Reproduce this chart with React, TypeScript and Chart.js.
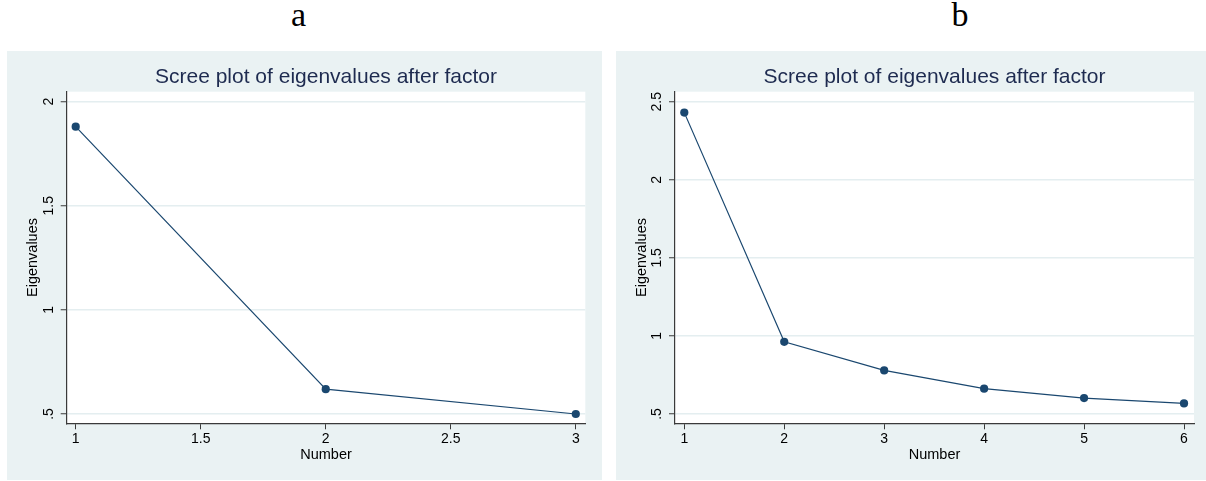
import React, { useEffect, useRef } from 'react';
import { Chart, registerables } from 'chart.js';

Chart.register(...registerables);

// ---- data ----
const chartTitle = 'Scree plot of eigenvalues after factor';
const yAxisTitle = 'Eigenvalues';
const xAxisTitle = 'Number';
const panelLabels = ['a', 'b'];

const numbersA = [1, 2, 3];
const eigenA = [1.88, 0.619, 0.5];
const xTicksA = [1, 1.5, 2, 2.5, 3];
const xTickLabelsA = ['1', '1.5', '2', '2.5', '3'];
const yTicksA = [0.5, 1, 1.5, 2];
const yTickLabelsA = ['.5', '1', '1.5', '2'];

const numbersB = [1, 2, 3, 4, 5, 6];
const eigenB = [2.43, 0.962, 0.779, 0.662, 0.602, 0.568];
const xTicksB = [1, 2, 3, 4, 5, 6];
const xTickLabelsB = ['1', '2', '3', '4', '5', '6'];
const yTicksB = [0.5, 1, 1.5, 2, 2.5];
const yTickLabelsB = ['.5', '1', '1.5', '2', '2.5'];

// ---- style ----
const PANEL_BG = '#eaf2f3';
const GRID = '#e4eef0';
const NAVY = '#1a476f';
const AXIS = '#3a3a3a';
const FONT = "'Liberation Sans', Arial, Helvetica, sans-serif";

type PanelProps = {
  left: number;
  width: number;
  xs: number[];
  ys: number[];
  xTicks: number[];
  xLabels: string[];
  yTicks: number[];
  yLabels: string[];
  xMin: number;
  xMax: number;
  yMin: number;
  yMax: number;
  plotLeft: number;
  plotRight: number;
};

const PANEL_TOP = 51;
const PANEL_H = 429;
const PLOT_TOP = 40.7;
const PLOT_BOTTOM = 372.3;

const plotBg = {
  id: 'plotBg',
  beforeDraw(chart: any) {
    const { ctx, chartArea } = chart;
    ctx.save();
    ctx.fillStyle = '#ffffff';
    ctx.fillRect(chartArea.left, chartArea.top, chartArea.right - chartArea.left, chartArea.bottom - chartArea.top);
    ctx.restore();
  },
};

function Panel(p: PanelProps) {
  const ref = useRef<HTMLCanvasElement | null>(null);
  useEffect(() => {
    if (!ref.current) return;
    const points = p.xs.map((x, i) => ({ x, y: p.ys[i] }));
    const chart = new Chart(ref.current, {
      type: 'line',
      data: {
        datasets: [
          {
            data: points,
            borderColor: NAVY,
            borderWidth: 1.2,
            pointRadius: 4.1,
            pointBackgroundColor: NAVY,
            pointBorderWidth: 0,
            fill: false,
            tension: 0,
            clip: false as any,
          },
        ],
      },
      options: {
        animation: false,
        responsive: false,
        devicePixelRatio: 1,
        events: [],
        layout: {
          autoPadding: false,
          padding: { left: 0, right: p.width - p.plotRight, top: 0, bottom: 0 },
        } as any,
        plugins: {
          legend: { display: false },
          tooltip: { enabled: false },
          title: {
            display: true,
            text: chartTitle,
            fullSize: false,
            color: '#1e2b50',
            font: { family: FONT, size: 21, weight: 'normal' as any, lineHeight: 1.2 },
            padding: { top: 13.7, bottom: PLOT_TOP - 13.7 - 25.2 },
          },
        },
        scales: {
          x: {
            type: 'linear',
            min: p.xMin,
            max: p.xMax,
            afterBuildTicks: (scale: any) => {
              scale.ticks = p.xTicks.map((v) => ({ value: v }));
            },
            afterFit: (scale: any) => {
              scale.height = PANEL_H - PLOT_BOTTOM;
            },
            grid: {
              drawOnChartArea: false,
              drawTicks: true,
              tickLength: 6,
              tickColor: AXIS,
              tickWidth: 1,
            },
            border: { display: true, color: AXIS, width: 1.2 },
            ticks: {
              color: '#000',
              font: { family: FONT, size: 14 },
              padding: 1.8,
              maxRotation: 0,
              minRotation: 0,
              autoSkip: false,
              callback: (_v: any, i: number) => p.xLabels[i],
            },
            title: {
              display: true,
              text: xAxisTitle,
              color: '#000',
              font: { family: FONT, size: 14.5, lineHeight: 1.2 },
              padding: { top: 0, bottom: 16.3 },
            },
          },
          y: {
            type: 'linear',
            min: p.yMin,
            max: p.yMax,
            afterBuildTicks: (scale: any) => {
              scale.ticks = p.yTicks.map((v) => ({ value: v }));
            },
            afterFit: (scale: any) => {
              scale.width = p.plotLeft;
            },
            grid: {
              drawOnChartArea: true,
              color: GRID,
              lineWidth: 1.5,
              drawTicks: true,
              tickLength: 6,
              tickColor: AXIS,
              tickWidth: 1,
            },
            border: { display: true, color: AXIS, width: 1.2 },
            ticks: {
              color: '#000',
              font: { family: FONT, size: 14 },
              padding: 2.0,
              minRotation: 90,
              maxRotation: 90,
              crossAlign: 'center',
              autoSkip: false,
              callback: (_v: any, i: number) => p.yLabels[i],
            },
            title: {
              display: true,
              text: yAxisTitle,
              color: '#000',
              font: { family: FONT, size: 14.5, lineHeight: 1.2 },
              padding: { top: 16.8, bottom: 0 },
            },
          },
        },
      } as any,
      plugins: [plotBg],
    });
    return () => chart.destroy();
  }, []);
  return (
    <canvas
      ref={ref}
      width={p.width}
      height={PANEL_H}
      style={{
        position: 'absolute',
        left: p.left,
        top: PANEL_TOP,
        width: p.width,
        height: PANEL_H,
        background: PANEL_BG,
        display: 'block',
      }}
    />
  );
}

export default function App() {
  const labelStyle = (cx: number): React.CSSProperties => ({
    position: 'absolute',
    left: cx - 30,
    width: 60,
    top: -2.5,
    textAlign: 'center',
    fontFamily: "'Liberation Serif', 'Times New Roman', serif",
    fontSize: 34,
    lineHeight: '34px',
    color: '#000',
  });
  return (
    <div
      style={{
        position: 'fixed',
        left: 0,
        top: 0,
        width: 1206,
        height: 481,
        background: '#fff',
        overflow: 'hidden',
      }}
    >
      <div style={labelStyle(298.5)}>{panelLabels[0]}</div>
      <div style={labelStyle(960)}>{panelLabels[1]}</div>
      <Panel
        left={7}
        width={595}
        xs={numbersA}
        ys={eigenA}
        xTicks={xTicksA}
        xLabels={xTickLabelsA}
        yTicks={yTicksA}
        yLabels={yTickLabelsA}
        xMin={0.964}
        xMax={3.038}
        yMin={0.4553}
        yMax={2.048}
        plotLeft={59.7}
        plotRight={578.3}
      />
      <Panel
        left={616}
        width={590}
        xs={numbersB}
        ys={eigenB}
        xTicks={xTicksB}
        xLabels={xTickLabelsB}
        yTicks={yTicksB}
        yLabels={yTickLabelsB}
        xMin={0.907}
        xMax={6.1}
        yMin={0.4404}
        yMax={2.564}
        plotLeft={59}
        plotRight={578}
      />
    </div>
  );
}
